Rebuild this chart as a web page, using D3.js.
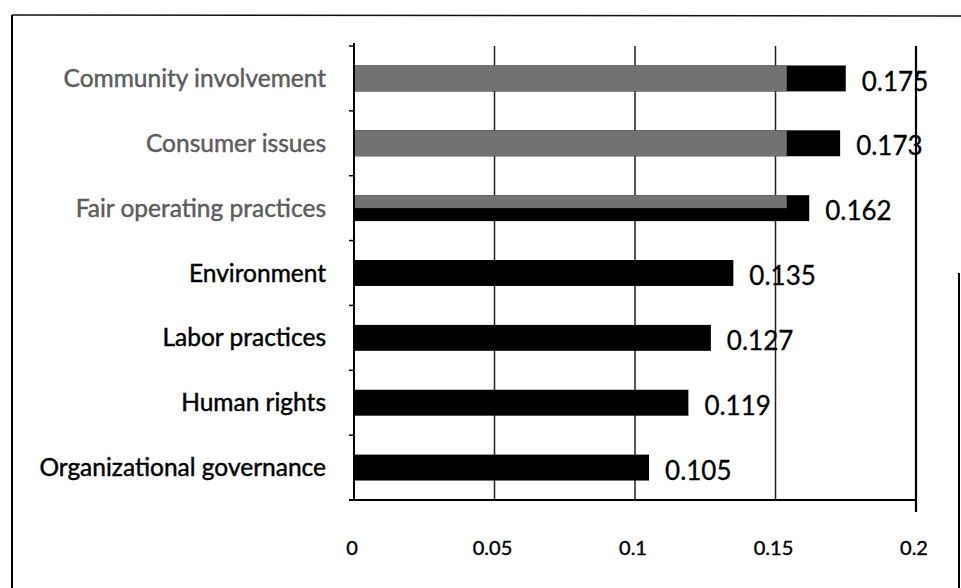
<!DOCTYPE html>
<html>
<head>
<meta charset="utf-8">
<script src="https://cdn.jsdelivr.net/npm/d3@7"></script>
<style>
  html, body { margin: 0; padding: 0; background: #fff; }
  svg { display: block; }
</style>
</head>
<body>
<svg id="chart" width="961" height="588"></svg>
<script>
// ---- data ----
const categories = [
  "Community involvement",
  "Consumer issues",
  "Fair operating practices",
  "Environment",
  "Labor practices",
  "Human rights",
  "Organizational governance"
];
const values = [0.175, 0.173, 0.162, 0.135, 0.127, 0.119, 0.105];
const valueLabels = ["0.175", "0.173", "0.162", "0.135", "0.127", "0.119", "0.105"];
// grey overprint seen on the upper bars of the scanned figure
const overlayValues = [0.154, 0.154, 0.154, 0, 0, 0, 0];
const overlayShare = [1, 1, 0.5, 0, 0, 0, 0];
const xTicks = [0, 0.05, 0.1, 0.15, 0.2];
const xTickLabels = ["0", "0.05", "0.1", "0.15", "0.2"];

// ---- layout ----
const svg = d3.select("#chart");
const plotL = 354, plotR = 916, plotT = 46, plotB = 500;
const font = "Lato, 'Open Sans', sans-serif";

const x = d3.scaleLinear().domain([0, 0.2]).range([plotL, plotR]);
const y = d3.scaleBand().domain(categories).range([plotT, plotB])
  .paddingInner(0.6).paddingOuter(0.3);
const step = y.step();

// frame (scanned border)
svg.append("line").attr("x1", 12).attr("x2", 12).attr("y1", 15).attr("y2", 588)
  .attr("stroke", "#000").attr("stroke-width", 2);
svg.append("line").attr("x1", 12).attr("x2", 961).attr("y1", 15).attr("y2", 16)
  .attr("stroke", "#111").attr("stroke-width", 1.5);
svg.append("line").attr("x1", 959).attr("x2", 959).attr("y1", 273).attr("y2", 588)
  .attr("stroke", "#000").attr("stroke-width", 2);

// vertical gridlines
svg.append("g").selectAll("line").data(xTicks.slice(1))
  .join("line")
  .attr("x1", d => x(d)).attr("x2", d => x(d))
  .attr("y1", plotT).attr("y2", d => d === 0.2 ? plotB + 12 : plotB)
  .attr("stroke", d => d === 0.2 ? "#000" : "#222")
  .attr("stroke-width", d => d === 0.2 ? 2.2 : 1.5);

// bars
svg.append("g").selectAll("rect").data(categories)
  .join("rect")
  .attr("x", x(0))
  .attr("y", d => y(d))
  .attr("width", (d, i) => x(values[i]) - x(0))
  .attr("height", y.bandwidth())
  .attr("fill", "#000");

// grey overprint
svg.append("g").selectAll("rect").data(categories.filter((d, i) => overlayValues[i] > 0))
  .join("rect")
  .attr("x", x(0))
  .attr("y", d => y(d))
  .attr("width", d => x(overlayValues[categories.indexOf(d)]) - x(0))
  .attr("height", d => y.bandwidth() * overlayShare[categories.indexOf(d)])
  .attr("fill", "#727272");

// y axis line + ticks at band boundaries
svg.append("line").attr("x1", plotL).attr("x2", plotL).attr("y1", plotT - 3).attr("y2", plotB)
  .attr("stroke", "#000").attr("stroke-width", 2);
svg.append("g").selectAll("line").data(d3.range(categories.length + 1))
  .join("line")
  .attr("x1", plotL - 5).attr("x2", plotL)
  .attr("y1", i => plotT + i * step).attr("y2", i => plotT + i * step)
  .attr("stroke", "#000").attr("stroke-width", 1.5);

// x axis line
svg.append("line").attr("x1", plotL - 5).attr("x2", plotR).attr("y1", plotB).attr("y2", plotB)
  .attr("stroke", "#000").attr("stroke-width", 2);

// x tick labels
svg.append("g").selectAll("text").data(xTicks)
  .join("text")
  .attr("x", d => x(d) - 2)
  .attr("y", 555)
  .attr("text-anchor", "middle")
  .attr("font-family", font)
  .attr("font-size", 20)
  .attr("fill", "#000")
  .attr("stroke", "#000").attr("stroke-width", 0.4)
  .text((d, i) => xTickLabels[i]);

// category labels
svg.append("g").selectAll("text").data(categories)
  .join("text")
  .attr("x", plotL - 28)
  .attr("y", d => y(d) + y.bandwidth() / 2)
  .attr("dy", "0.35em")
  .attr("text-anchor", "end")
  .attr("font-family", font)
  .attr("font-size", 24.5)
  .attr("fill", (d, i) => overlayValues[i] > 0 ? "#5c5c5c" : "#000")
  .attr("stroke", (d, i) => overlayValues[i] > 0 ? "#5c5c5c" : "#000")
  .attr("stroke-width", 0.45)
  .text(d => d);

// value labels
svg.append("g").selectAll("text").data(categories)
  .join("text")
  .attr("x", (d, i) => x(values[i]) + 16)
  .attr("y", d => y(d) + y.bandwidth() / 2 + 3)
  .attr("dy", "0.35em")
  .attr("font-family", font)
  .attr("font-size", 26)
  .attr("fill", "#000")
  .attr("stroke", "#000").attr("stroke-width", 0.3)
  .text((d, i) => valueLabels[i]);
</script>
</body>
</html>
